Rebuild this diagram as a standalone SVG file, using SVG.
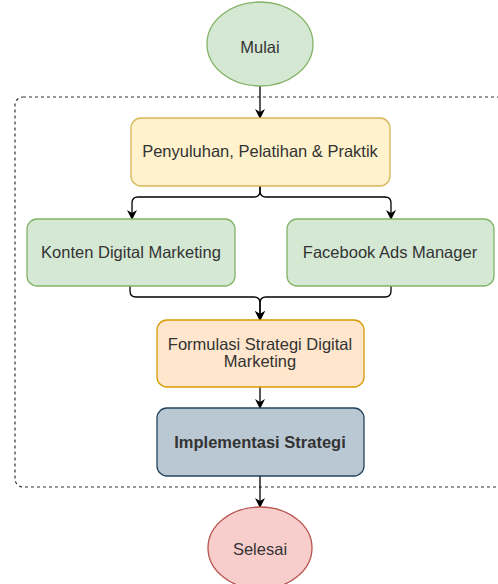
<svg xmlns="http://www.w3.org/2000/svg" width="498" height="584" viewBox="0 0 498 584">
<style>
  text { font-family: "Liberation Sans", Arial, sans-serif; font-size: 16.5px; fill: #333333; text-anchor: middle; }
  .b { font-weight: bold; }
  .edge { fill: none; stroke: #000000; stroke-width: 1.3; }
</style>
<defs>
  <marker id="arr" viewBox="0 0 10 10" refX="9" refY="5" markerWidth="10" markerHeight="10" markerUnits="userSpaceOnUse" orient="auto">
    <path d="M0,0 L10,5 L0,10 L3,5 Z" fill="#000000"/>
  </marker>
</defs>
<rect x="15" y="97" width="500" height="390" rx="8" ry="8" fill="none" stroke="#333333" stroke-width="1.2" stroke-dasharray="3 3"/>
<g id="connectors">
  <path class="edge" d="M260,86 L260,118" marker-end="url(#arr)"/>
  <path class="edge" d="M260,186 L260,191 Q260,197 254,197 L138,197 Q132,197 132,203 L132,219" marker-end="url(#arr)"/>
  <path class="edge" d="M260,186 L260,191 Q260,197 266,197 L385,197 Q391,197 391,203 L391,219" marker-end="url(#arr)"/>
  <path class="edge" d="M130,286 L130,291 Q130,297 136,297 L254,297 Q260,297 260,303 L260,320" marker-end="url(#arr)"/>
  <path class="edge" d="M391,286 L391,291 Q391,297 385,297 L266,297 Q260,297 260,303 L260,320" marker-end="url(#arr)"/>
  <path class="edge" d="M260,387 L260,408" marker-end="url(#arr)"/>
  <path class="edge" d="M260,476 L260,507" marker-end="url(#arr)"/>
</g>
<g id="mulai">
  <ellipse cx="260" cy="44" rx="53" ry="42" fill="#d5e8d4" stroke="#82b366" stroke-width="1.3"/>
  <text x="260" y="53">Mulai</text>
</g>
<g id="penyuluhan">
  <rect x="131" y="118" width="259" height="68" rx="10" ry="10" fill="#fff2cc" stroke="#d6b656" stroke-width="1.3"/>
  <text x="260" y="157">Penyuluhan, Pelatihan &amp; Praktik</text>
</g>
<g id="konten">
  <rect x="27" y="219" width="208" height="67" rx="10" ry="10" fill="#d5e8d4" stroke="#82b366" stroke-width="1.3"/>
  <text x="131" y="258">Konten Digital Marketing</text>
</g>
<g id="facebook">
  <rect x="287" y="219" width="207" height="67" rx="10" ry="10" fill="#d5e8d4" stroke="#82b366" stroke-width="1.3"/>
  <text x="390" y="258">Facebook Ads Manager</text>
</g>
<g id="formulasi">
  <rect x="157" y="320" width="207" height="67" rx="10" ry="10" fill="#ffe6cc" stroke="#d79b00" stroke-width="1.3"/>
  <text x="260" y="350">Formulasi Strategi Digital</text>
  <text x="260" y="367">Marketing</text>
</g>
<g id="implementasi">
  <rect x="157" y="408" width="207" height="68" rx="10" ry="10" fill="#bac8d3" stroke="#23445d" stroke-width="1.3"/>
  <text class="b" x="260" y="448">Implementasi Strategi</text>
</g>
<g id="selesai">
  <ellipse cx="260" cy="548" rx="52" ry="41" fill="#f8cecc" stroke="#b85450" stroke-width="1.3"/>
  <text x="260" y="555">Selesai</text>
</g>
</svg>
